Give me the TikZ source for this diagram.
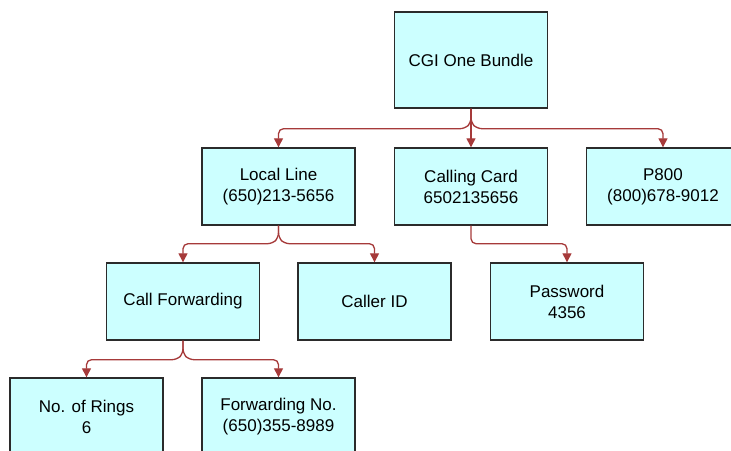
\documentclass[tikz,border=0pt]{standalone}
\usepackage{fontspec}
\setmainfont{Liberation Sans}
\usepackage{xcolor}
\usetikzlibrary{arrows.meta}

\definecolor{boxfill}{HTML}{CCFFFF}
\definecolor{boxline}{HTML}{2B2B2B}
\definecolor{linkred}{HTML}{A63A3A}

\tikzset{
	item/.style={draw=boxline, fill=boxfill, line width=1.4pt, minimum width=153pt, minimum height=77pt, align=center, inner sep=0pt, font=\fontsize{17}{21}\selectfont},
	link/.style={draw=linkred, line width=1.3pt, rounded corners=5pt},
	tip/.style={-{Triangle[width=9pt,length=9pt]}}
}

\begin{document}
\begin{tikzpicture}[x=1pt,y=-1pt]
				\useasboundingbox (0,0) rectangle (731,450);
				
				\node[item, minimum height=96pt] (cgi) at (471,60) {CGI One Bundle};
				
				\node[item] (local) at (278.5,186.5) {Local Line\\(650)213-5656};
				\node[item] (calling) at (471,186.5) {Calling Card\\6502135656};
				\node[item] (p800) at (663,186.5) {P800\\(800)678-9012};
				
				\node[item] (callfwd) at (183,301.5) {Call Forwarding};
				\node[item] (callerid) at (374.5,301.5) {Caller ID};
				\node[item] (password) at (567,301.5) {Password\\4356};
				
				\node[item] (rings) at (86.5,416.5) {No. of Rings\\6};
				\node[item] (fwdno) at (278.5,416.5) {Forwarding No.\\(650)355-8989};
				
				% bundle
				\draw[link, tip] (cgi.south) -- (calling.north);
				\draw[link, tip] (cgi.south) -- ++(0,14) -- ++(-6,6) -| (local.north);
				\draw[link, tip] (cgi.south) -- ++(0,14) -- ++(6,6) -| (p800.north);
				
				% local line
				\draw[link, tip] (local.south) -- ++(0,12) -- ++(-6,6) -| (callfwd.north);
				\draw[link, tip] (local.south) -- ++(0,12) -- ++(6,6) -| (callerid.north);
				
				% calling card
				\draw[link, tip] (calling.south) -- ++(0,18) -| (password.north);
				
				% call forwarding
				\draw[link, tip] (callfwd.south) -- ++(0,13) -- ++(-6,6) -| (rings.north);
				\draw[link, tip] (callfwd.south) -- ++(0,13) -- ++(6,6) -| (fwdno.north);
			\end{tikzpicture}
\end{document}
